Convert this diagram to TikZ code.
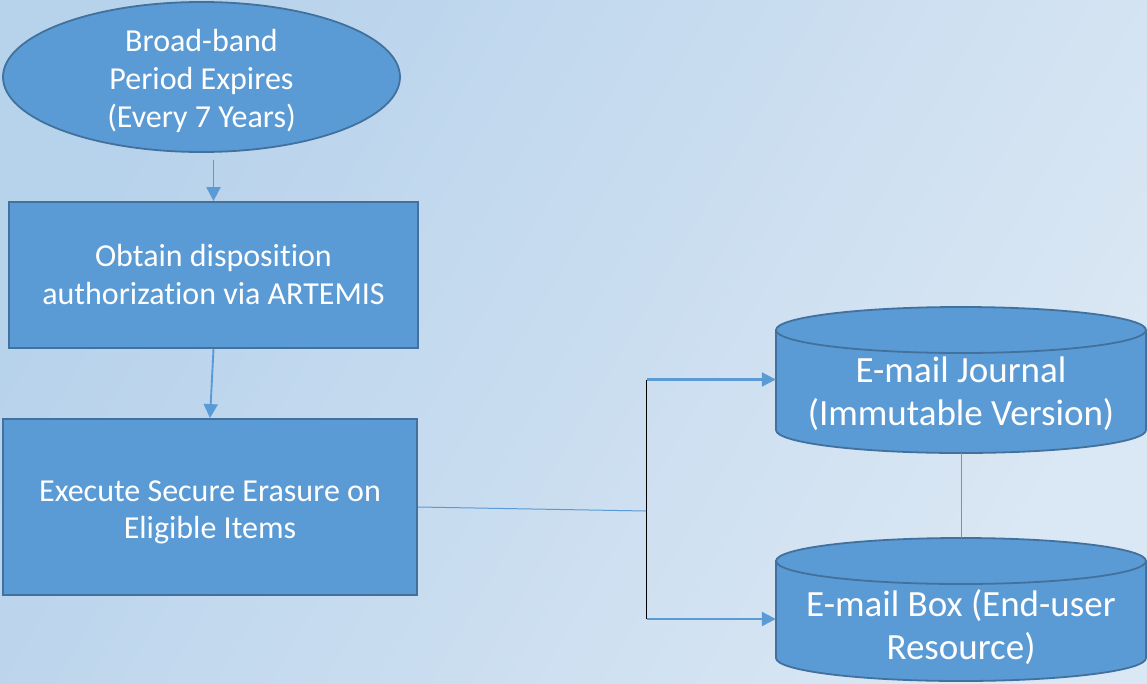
\documentclass[tikz,border=0pt]{standalone}
\usepackage{fontspec}
\setmainfont{Carlito}[Ligatures={NoCommon}]
\usetikzlibrary{shapes.geometric,arrows.meta}
\definecolor{bgA}{HTML}{B7D2EB}
\definecolor{bgB}{HTML}{DAE7F4}
\definecolor{boxfill}{HTML}{5B9BD5}
\definecolor{boxline}{HTML}{41719C}
\tikzset{
  shapebase/.style={fill=boxfill, draw=boxline, line width=1.8pt, text=white, align=center},
  procbox/.style={shapebase, rectangle, inner sep=0pt},
  startoval/.style={shapebase, ellipse, inner sep=0pt},
  whitetext/.style={text=white, align=center, inner sep=0pt},
  cyltext/.style={whitetext, font=\fontsize{37}{43}\selectfont},
  arr/.style={draw=boxfill, line width=1.9pt, -{Triangle[length=14pt,width=14pt]}},
  harr/.style={arr, line width=2.2pt},
  thin/.style={draw=boxfill, line width=1pt}
}
\newcommand{\cylshape}[5]{% cx, top, bottom, rx, ry
  \filldraw[fill=boxfill, draw=boxline, line width=1.8pt]
    ({#1-#4},{-(#2+#5)}) -- ({#1-#4},{-(#3-#5)})
    arc[start angle=180, end angle=360, x radius=#4, y radius=#5]
    -- ({#1+#4},{-(#2+#5)})
    arc[start angle=0, end angle=180, x radius=#4, y radius=#5] -- cycle;
  \draw[draw=boxline, line width=1.8pt] ({#1-#4},{-(#2+#5)})
    arc[start angle=180, end angle=360, x radius=#4, y radius=#5];
}
\begin{document}
\begin{tikzpicture}[x=1pt,y=1pt]
\useasboundingbox (0,0) rectangle (1147,-683);
\shade[left color=bgA, right color=bgB, shading angle=60] (0,0) rectangle (1147,-683);

% cylinders
\cylshape{961}{307}{453}{185}{23}
\cylshape{961}{538}{681}{185}{23}

% nodes
\node[startoval, minimum width=397pt, minimum height=150pt] (start) at (201.5,-77) {};
\node[whitetext, font=\fontsize{32}{38}\selectfont] (starttext) at ([yshift=-4pt]start.center)
  {Broad-band\\Period Expires\\(Every 7 Years)};
\node[procbox, minimum width=409pt, minimum height=146pt, font=\fontsize{32}{38}\selectfont]
  (obtain) at (213.5,-275) {Obtain disposition\\authorization via ARTEMIS};
\node[procbox, minimum width=414pt, minimum height=176pt] (erase) at (210,-507) {};
\node[whitetext, font=\fontsize{32}{37}\selectfont] (erasetext) at ([yshift=-5pt]erase.center)
  {Execute Secure Erasure on\\Eligible Items};
\node[cyltext, minimum width=370pt, minimum height=118pt] (journal) at (961,-394)
  {E-mail Journal\\(Immutable Version)};
\node[cyltext, minimum width=370pt, minimum height=178pt] (box) at (961,-627)
  {E-mail Box (End-user\\Resource)};

% connectors
\coordinate (jmid) at (646.5,-511);
\coordinate (jtop) at (646.5,-379.5);
\coordinate (jbot) at (646.5,-619);

\draw[arr, shorten <=7pt] (start.south -| obtain.north) -- (obtain.north);
\draw[arr] (obtain.south) -- (erase.north);
\draw[thin] (erase.east) -- (jmid);
\draw[black, line width=1.2pt] (jtop) -- (jbot);
\draw[harr] (jtop) -- (journal.west |- jtop);
\draw[harr] (jbot) -- (box.west |- jbot);
\draw[thin] (journal.south) -- (box.north);
\end{tikzpicture}
\end{document}
